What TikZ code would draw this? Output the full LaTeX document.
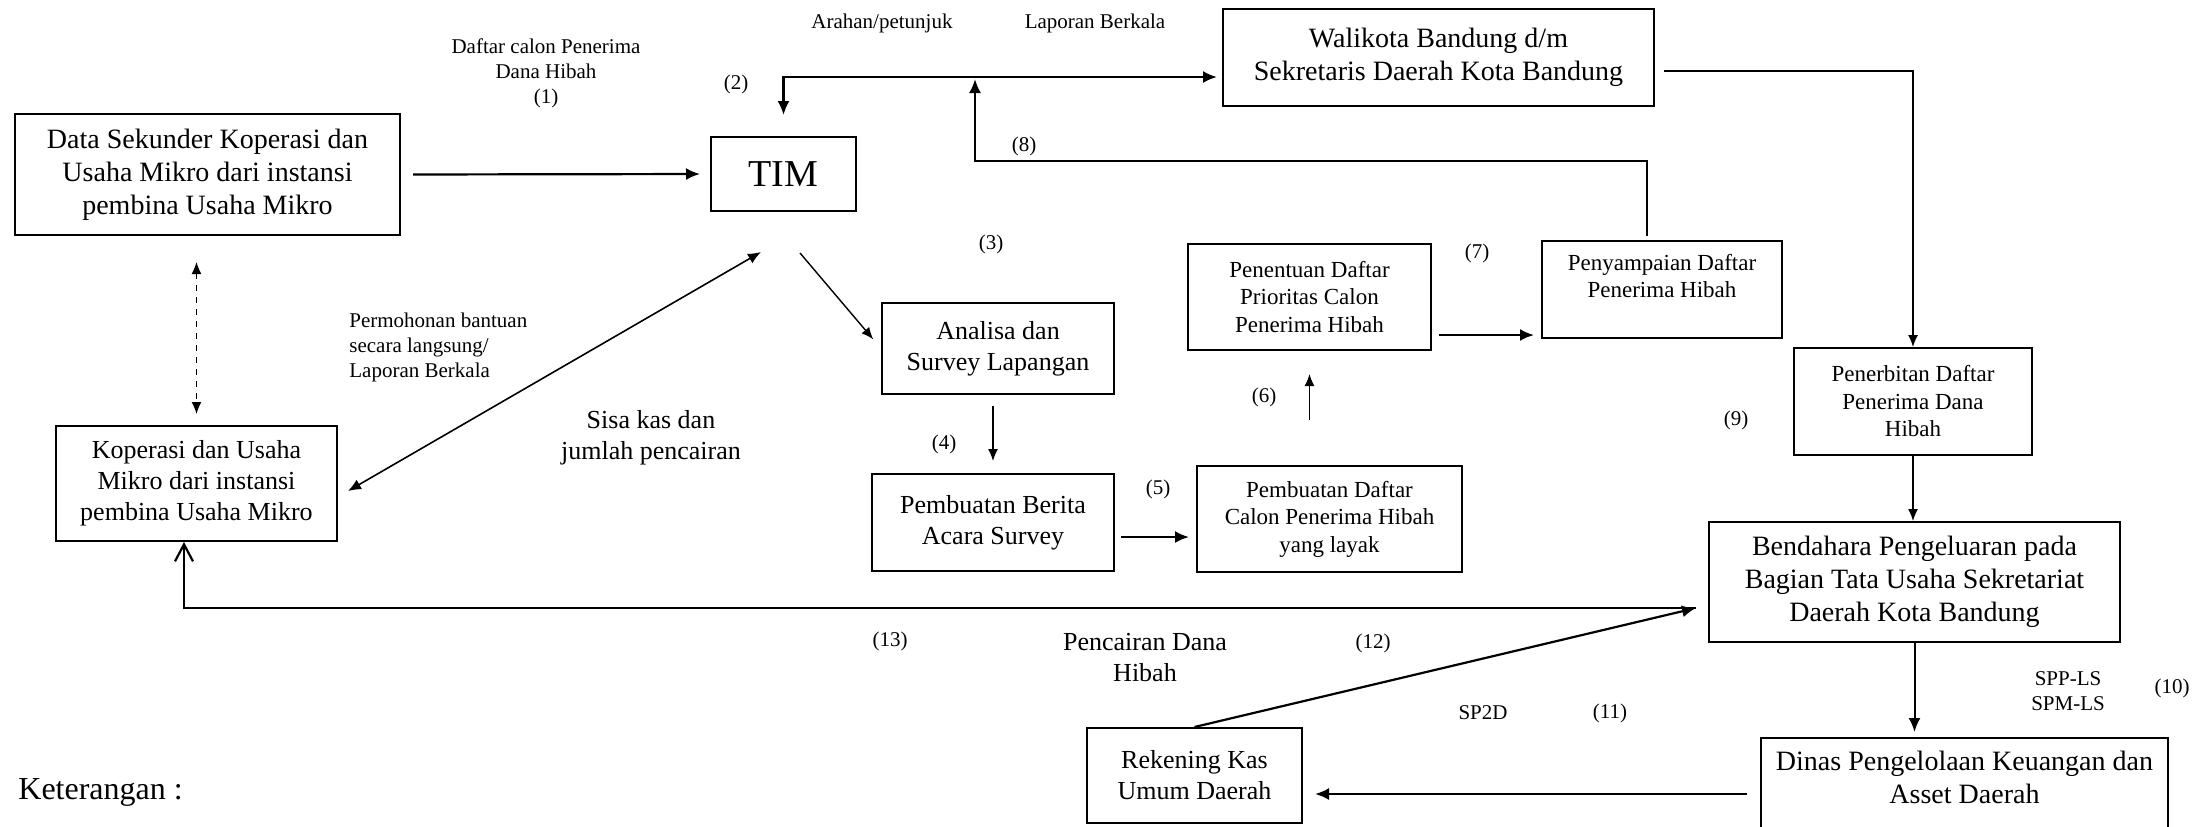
\documentclass[tikz,border=0pt]{standalone}
\usepackage{fontspec}
\setmainfont{Liberation Serif}
\usetikzlibrary{arrows.meta}

\tikzset{
  box/.style={draw, line width=1pt, inner sep=0pt, align=center},
  bigtxt/.style={font=\fontsize{14}{16.5}\selectfont},
  midtxt/.style={font=\fontsize{13}{15.5}\selectfont},
  smalltxt/.style={font=\fontsize{11.5}{13.75}\selectfont},
  lbl/.style={font=\fontsize{10.5}{12.5}\selectfont, align=center, inner sep=0pt},
  arr/.style={line width=1.1pt, -{Latex[length=7pt,width=6pt]}},
  thinarr/.style={line width=0.7pt, -{Latex[length=6pt,width=5pt]}},
}

\begin{document}
\begin{tikzpicture}[x=0.5pt, y=-0.5pt]
  \useasboundingbox (0,0) rectangle (2202,826);

  % boxes
  \node[box, bigtxt, minimum width=192.5pt, minimum height=60.5pt] (data) at (207.5,174.5)
    {Data Sekunder Koperasi dan\\Usaha Mikro dari instansi\\pembina Usaha Mikro};
  \node[box, font=\fontsize{19}{22}\selectfont, minimum width=72.5pt, minimum height=37pt] (tim) at (783.5,174) {TIM};
  \node[box, bigtxt, minimum width=215.5pt, minimum height=48.5pt] (walikota) at (1438.5,57.5)
    {Walikota Bandung d/m\\Sekretaris Daerah Kota Bandung};
  \node[box, midtxt, minimum width=116pt, minimum height=45.5pt] (analisa) at (998,348.5)
    {Analisa dan\\Survey Lapangan};
  \node[box, midtxt, minimum width=121pt, minimum height=48.5pt] (berita) at (993,522.5)
    {Pembuatan Berita\\Acara Survey};
  \node[box, smalltxt, minimum width=132.5pt, minimum height=53pt] (layak) at (1329.5,519)
    {Pembuatan Daftar\\Calon Penerima Hibah\\yang layak};
  \node[box, smalltxt, minimum width=121.5pt, minimum height=53pt] (penentuan) at (1309.5,297)
    {Penentuan Daftar\\Prioritas Calon\\Penerima Hibah};
  \node[box, smalltxt, minimum width=120pt, minimum height=48.5pt] (penyampaian) at (1662,289.5)
    {Penyampaian Daftar\\Penerima Hibah\\\mbox{}};
  \node[box, smalltxt, minimum width=119pt, minimum height=53.5pt] (penerbitan) at (1913,401.5)
    {Penerbitan Daftar\\Penerima Dana\\Hibah};
  \node[box, bigtxt, minimum width=205.5pt, minimum height=60pt] (bendahara) at (1914.5,582)
    {Bendahara Pengeluaran pada\\Bagian Tata Usaha Sekretariat\\Daerah Kota Bandung};
  \node[box, bigtxt, minimum width=203.5pt, minimum height=56pt] (dinas) at (1964.5,794)
    {Dinas Pengelolaan Keuangan dan\\Asset Daerah\\\mbox{}};
  \node[box, midtxt, minimum width=107.5pt, minimum height=47.5pt] (rekening) at (1194.5,775.5)
    {Rekening Kas\\Umum Daerah};
  \node[box, midtxt, minimum width=140.5pt, minimum height=57.5pt] (koperasi) at (196.5,483.5)
    {Koperasi dan Usaha\\Mikro dari instansi\\pembina Usaha Mikro};

  % labels
  \node[lbl] (l1) at (546,73) {Daftar calon Penerima\\Dana Hibah\\(1)};
  \node[lbl] (arahan) at (882,23) {Arahan/petunjuk};
  \node[lbl] (lapor) at (1095,23) {Laporan Berkala};
  \node[lbl] (l2) at (736,84) {(2)};
  \node[lbl] (l3) at (991,244) {(3)};
  \node[lbl] (l4) at (944,444) {(4)};
  \node[lbl] (l5) at (1158,489) {(5)};
  \node[lbl] (l6) at (1264,397) {(6)};
  \node[lbl] (l7) at (1477,253) {(7)};
  \node[lbl] (l8) at (1024,146) {(8)};
  \node[lbl] (l9) at (1736,420) {(9)};
  \node[lbl] (l10) at (2172,688) {(10)};
  \node[lbl] (l11) at (1610,713) {(11)};
  \node[lbl] (l12) at (1373,643) {(12)};
  \node[lbl] (l13) at (890,641) {(13)};
  \node[lbl, align=left, anchor=west] (mohon) at (349,347)
    {Permohonan bantuan\\secara langsung/\\Laporan Berkala};
  \node[lbl, midtxt] (sisa) at (651,438) {Sisa kas dan\\jumlah pencairan};
  \node[lbl, midtxt] (cair) at (1145,658) {Pencairan Dana\\Hibah};
  \node[lbl] (sp2d) at (1483,713) {SP2D};
  \node[lbl] (spp) at (2068,691) {SPP-LS\\SPM-LS};
  \node[lbl, font=\fontsize{16}{19}\selectfont, anchor=west] (ket) at (18,792) {Keterangan :};

  \coordinate (k8) at (975,161);
  \coordinate (k8top) at (975,79);
  \coordinate (bin) at ([shift={(-6pt,-13pt)}]bendahara.west);

  % connectors
  \draw[arr, shorten <=6pt, shorten >=5pt] (data.east) -- (tim.west);
  \draw[arr, {Latex[length=7pt,width=6pt]}-{Latex[length=7pt,width=6pt]}, shorten <=10.5pt, shorten >=2.5pt]
    (tim.north) |- ([yshift=-9.75pt]walikota.west);
  \draw[arr] ([xshift=-7.5pt,yshift=2pt]penyampaian.north) |- (k8) -- (k8top);
  \draw[thinarr, shorten <=4.5pt] ([yshift=-6.75pt]walikota.east) -| (penerbitan.north);
  \draw[thinarr, shorten >=6pt] ([shift={(8.25pt,-20.5pt)}]tim.south) -- (analisa.west);
  \draw[thinarr, line width=0.8pt, {Latex[length=6.5pt,width=5.5pt]}-{Latex[length=6.5pt,width=5.5pt]}]
    ([shift={(5pt,-3.75pt)}]koperasi.east) -- ([shift={(-11.25pt,-20pt)}]tim.south);
  \draw[thinarr, dashed, {Latex[length=6pt,width=5pt]}-{Latex[length=6pt,width=5pt]}, shorten <=13pt, shorten >=5.5pt]
    (data.south -| koperasi.north) -- (koperasi.north);
  \draw[thinarr, shorten <=5.5pt, shorten >=6pt] (analisa.south -| berita.north) -- (berita.north);
  \draw[arr, shorten <=3pt, shorten >=3.5pt] ([yshift=-7.25pt]berita.east) -- ([yshift=-7.25pt]berita.east -| layak.west);
  \draw[thinarr, shorten <=22.5pt, shorten >=11.5pt] (penentuan.south |- layak.north) -- (penentuan.south);
  \draw[arr, shorten <=3.5pt, shorten >=3.5pt] ([yshift=-19pt]penentuan.east) -- ([yshift=-19pt]penentuan.east -| penyampaian.west);
  \draw[thinarr] (penerbitan.south) -- (penerbitan.south |- bendahara.north);
  \draw[arr, line width=1pt, shorten >=2.5pt] (bendahara.south) -- (bendahara.south |- dinas.north);
  \draw[arr, shorten <=6.5pt, shorten >=6pt] (dinas.west) -- (dinas.west -| rekening.east);
  \draw[arr] (rekening.north) -- (bin);
  \draw[line width=1.1pt, {Straight Barb[length=8.5pt,width=9pt]}-] ([xshift=-6.25pt]koperasi.south) |- (bin);
\end{tikzpicture}
\end{document}
